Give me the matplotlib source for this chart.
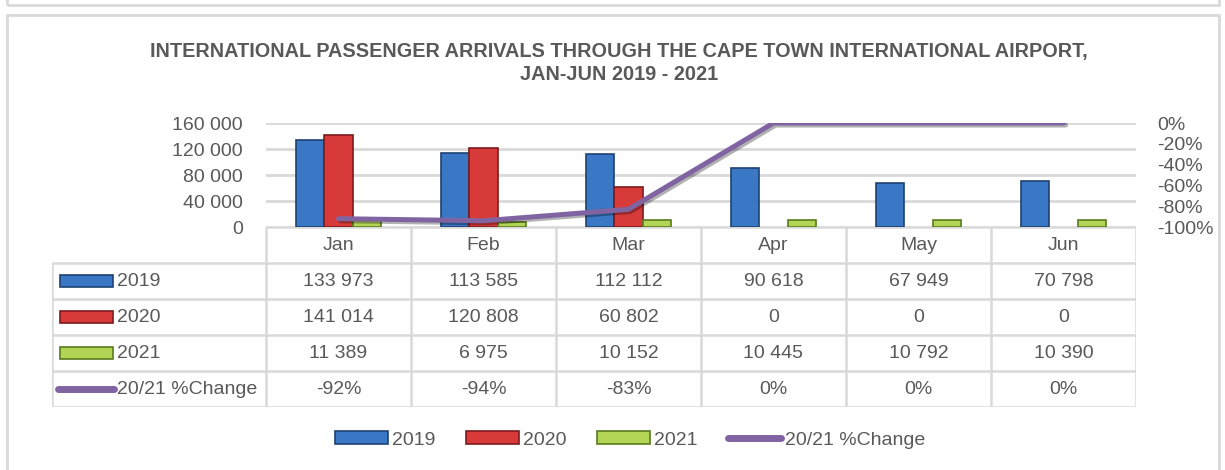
import matplotlib

matplotlib.use("Agg")
import matplotlib.pyplot as plt
import matplotlib.patheffects as pe
import numpy as np
from matplotlib import font_manager
from matplotlib.lines import Line2D
from matplotlib.patches import Patch, Rectangle
from matplotlib.ticker import FuncFormatter

months = ["Jan", "Feb", "Mar", "Apr", "May", "Jun"]
series_names = ["2019", "2020", "2021"]
arrivals_2019 = [133973, 113585, 112112, 90618, 67949, 70798]
arrivals_2020 = [141014, 120808, 60802, 0, 0, 0]
arrivals_2021 = [11389, 6975, 10152, 10445, 10792, 10390]
pct_label = "20/21 %Change"
pct_change = [-92, -94, -83, 0, 0, 0]
title = ("INTERNATIONAL PASSENGER ARRIVALS THROUGH THE CAPE TOWN INTERNATIONAL AIRPORT,\n"
         "JAN-JUN 2019 - 2021")

W, H = 1225, 470
TEXT = "#595959"
GRID = "#d9d9d9"
PURPLE = "#8064a2"
bar_styles = [
    ("#3a77c4", "#1f4273"),
    ("#d83a3a", "#7d1a1a"),
    ("#b3d555", "#5a7a1e"),
]

plt.rcParams["font.family"] = ["Liberation Sans", "DejaVu Sans"]
installed = {f.name for f in font_manager.fontManager.ttflist}
if "Liberation Sans Narrow" in installed:
    narrow, title_size, right_size = ["Liberation Sans Narrow", "DejaVu Sans"], 17, 16.5
else:
    narrow, title_size, right_size = ["Liberation Sans", "DejaVu Sans"], 14.3, 14
FS = 14


def px(x0, y0, x1, y1):
    return [x0 / W, 1 - y1 / H, (x1 - x0) / W, (y1 - y0) / H]


fig = plt.figure(figsize=(W / 100, H / 100), dpi=100)

# outer chart frames
frame = dict(fill=False, edgecolor=GRID, linewidth=2, transform=fig.transFigure)
fig.patches.append(Rectangle((7 / W, -0.05), 1212 / W, 1.05 - 15 / H, **frame))
fig.patches.append(Rectangle((7 / W, 1 - 5 / H), 1212 / W, 0.1, **frame))

fig.text(619 / W, 1 - 63 / H, title, ha="center", va="center", color=TEXT,
         fontsize=title_size, fontweight="bold", family=narrow, linespacing=1.2)

ax = fig.add_axes(px(266, 123, 1136, 227))
x = np.arange(len(months))
width = 0.195
for i, (vals, (fc, ec)) in enumerate(zip([arrivals_2019, arrivals_2020, arrivals_2021], bar_styles)):
    ax.bar(x + (i - 1) * width, vals, width, color=fc, edgecolor=ec,
           linewidth=[1.2 if v else 0 for v in vals], zorder=3)
ax.set_xlim(-0.5, len(months) - 0.5)
ax.set_ylim(0, 160000)
ax.set_yticks(np.arange(0, 160001, 40000))
ax.yaxis.set_major_formatter(FuncFormatter(lambda v, _: f"{int(v):,}".replace(",", " ")))
ax.yaxis.grid(True, color=GRID, linewidth=2)
ax.set_axisbelow(True)
ax.set_xticks([])
ax.tick_params(axis="y", length=0, pad=16.5, labelsize=FS, labelcolor=TEXT)
for s in ax.spines.values():
    s.set_visible(False)

ax2 = ax.twinx()
ax2.plot(x, np.array(pct_change) / 100, color=PURPLE, lw=3.6, solid_capstyle="round", zorder=5,
         path_effects=[pe.SimpleLineShadow(offset=(1.5, -1.5), alpha=0.3), pe.Normal()])
ax2.set_ylim(-1, 0)
ax2.set_yticks(np.linspace(-1, 0, 6))
ax2.yaxis.set_major_formatter(FuncFormatter(lambda v, _: f"{round(v * 100)}%"))
ax2.tick_params(axis="y", length=0, pad=15, labelcolor=TEXT)
for lab in ax2.get_yticklabels():
    lab.set_fontsize(right_size)
    lab.set_family(narrow)
for s in ax2.spines.values():
    s.set_visible(False)

# data table under the plot
tax = fig.add_axes(px(52, 227, 1136, 407))
xmin = -0.5 - (266 - 52) / ((1136 - 266) / len(months))
xmax = len(months) - 0.5
tax.set_xlim(xmin, xmax)
tax.set_ylim(5, 0)
tax.axis("off")
lw = 1.8
tax.hlines(0, -0.5, xmax, color=GRID, lw=lw)
tax.hlines(np.arange(1, 6), xmin, xmax, color=GRID, lw=lw)
tax.vlines(np.arange(len(months) + 1) - 0.5, 0, 5, color=GRID, lw=lw)
tax.vlines(xmin, 1, 5, color=GRID, lw=lw)
for j, m in enumerate(months):
    tax.text(j, 0.5, m, ha="center", va="center", fontsize=FS, color=TEXT)

rows = [arrivals_2019, arrivals_2020, arrivals_2021]
for r, (name, vals, (fc, ec)) in enumerate(zip(series_names, rows, bar_styles), start=1):
    tax.add_patch(Rectangle((xmin + 0.055, r + 0.5 - 0.17), 0.366, 0.34, facecolor=fc,
                            edgecolor=ec, linewidth=1.2))
    tax.text(xmin + 0.448, r + 0.5, name, ha="left", va="center", fontsize=FS, color=TEXT)
    for j, v in enumerate(vals):
        tax.text(j, r + 0.5, f"{v:,}".replace(",", " "), ha="center", va="center",
                 fontsize=FS, color=TEXT)
tax.plot([xmin + 0.04, xmin + 0.43], [4.5, 4.5], color=PURPLE, lw=5, solid_capstyle="round")
tax.text(xmin + 0.448, 4.5, pct_label, ha="left", va="center", fontsize=FS, color=TEXT)
for j, v in enumerate(pct_change):
    tax.text(j, 4.5, f"{v}%", ha="center", va="center", fontsize=FS, color=TEXT)

handles = [Patch(facecolor=fc, edgecolor=ec, linewidth=1.2) for fc, ec in bar_styles]
handles.append(Line2D([], [], color=PURPLE, lw=5, solid_capstyle="round"))
fig.legend(handles, series_names + [pct_label], loc="center", bbox_to_anchor=(630 / W, 1 - 440 / H),
           ncol=4, frameon=False, fontsize=FS, labelcolor=TEXT, handlelength=2.7,
           handleheight=0.6, handletextpad=0.2, columnspacing=1.6)

fig.savefig("out.png", dpi=100)
